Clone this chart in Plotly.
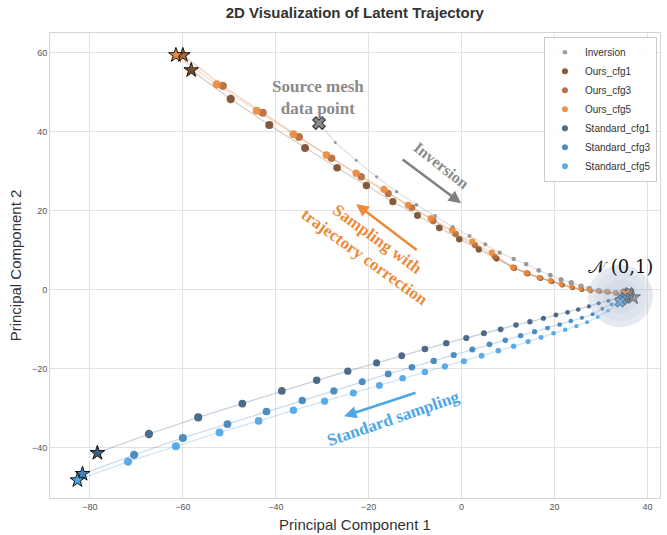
import plotly.graph_objects as go

# ---------------- data ----------------
# Inversion: source data point -> noise
inv_x = [-30.7, -27.2, -22.7, -18.3, -14.0, -9.7, -5.7, -1.9, 1.7, 5.1, 8.2, 11.2, 13.9, 16.6,
         19.1, 21.4, 23.6, 25.7, 27.5, 29.5, 31.3, 33.2, 35.0, 36.9]
inv_y = [42.1, 37.2, 32.7, 28.5, 24.7, 21.4, 18.6, 15.8, 13.5, 11.4, 9.3, 7.7, 6.4, 4.8,
         3.6, 2.5, 1.7, 0.8, 0.2, -0.3, -0.6, -0.9, -1.3, -2.0]

# Sampling trajectories: generated data end -> noise end
ours1_x = [-58.2, -49.7, -41.4, -33.7, -26.8, -20.5, -14.8, -9.5, -4.8, -0.5, 3.7, 7.5, 11.3, 14.2,
           17.0, 19.4, 21.7, 23.9, 25.9, 27.8, 29.8, 31.6, 33.4, 36.0]
ours1_y = [55.5, 48.2, 41.6, 35.8, 30.8, 26.3, 22.2, 18.7, 15.6, 12.7, 10.1, 7.8, 5.4, 4.0,
           2.8, 2.0, 1.1, 0.4, -0.1, -0.4, -0.6, -0.8, -1.0, -0.8]
ours3_x = [-60.0, -51.4, -42.8, -35.0, -28.0, -21.6, -15.8, -10.7, -6.1, -1.3, 2.9, 7.1, 11.2, 14.1,
           16.9, 19.3, 21.6, 23.8, 25.8, 27.7, 29.7, 31.5, 33.3, 35.8]
ours3_y = [59.3, 51.5, 44.7, 38.6, 33.2, 28.5, 24.3, 20.7, 17.4, 14.0, 11.2, 8.3, 5.5, 4.1,
           2.9, 2.1, 1.2, 0.5, 0.0, -0.3, -0.5, -0.7, -0.9, -1.3]
ours5_x = [-61.5, -52.7, -44.1, -36.2, -29.1, -22.7, -16.7, -11.5, -6.6, -2.0, 2.3, 6.5, 11.0, 13.9,
           16.7, 19.1, 21.4, 23.6, 25.6, 27.5, 29.5, 31.3, 33.1, 35.3]
ours5_y = [59.3, 51.9, 45.2, 39.3, 34.0, 29.4, 25.3, 21.3, 18.0, 15.0, 12.1, 9.3, 5.6, 4.2,
           3.0, 2.2, 1.3, 0.6, 0.1, -0.2, -0.4, -0.6, -0.8, -1.1]

std1_x = [-78.4, -67.3, -56.7, -47.2, -38.7, -31.2, -24.5, -18.3, -12.9, -7.9, -3.3, 1.0, 4.8, 8.4,
          11.7, 14.7, 17.6, 20.3, 22.8, 25.1, 27.4, 29.5, 31.6, 33.3, 35.2]
std1_y = [-41.4, -36.6, -32.4, -28.9, -25.7, -23.0, -20.7, -18.6, -16.8, -15.1, -13.6, -12.3, -11.1, -10.1,
          -9.0, -8.2, -7.3, -6.5, -5.8, -5.1, -4.3, -3.5, -2.9, -2.4, -2.1]
std3_x = [-81.6, -70.5, -60.0, -50.4, -42.0, -34.3, -27.5, -21.4, -15.8, -10.7, -6.0, -1.7, 2.3, 6.0,
          9.4, 12.7, 15.7, 18.5, 21.1, 23.5, 25.9, 28.2, 30.3, 32.3, 34.6]
std3_y = [-46.7, -41.9, -37.6, -34.1, -30.9, -28.1, -25.7, -23.4, -21.4, -19.7, -18.1, -16.6, -15.2, -13.9,
          -12.9, -11.7, -10.7, -9.8, -8.9, -8.0, -7.2, -6.3, -4.9, -3.8, -2.6]
std5_x = [-82.7, -71.8, -61.5, -52.1, -43.7, -36.2, -29.5, -23.3, -17.7, -12.7, -7.9, -3.6, 0.5, 4.3,
          7.9, 11.2, 14.3, 17.1, 19.8, 22.3, 24.7, 27.0, 29.3, 31.5, 34.1]
std5_y = [-48.3, -43.6, -39.7, -36.2, -33.3, -30.6, -28.3, -26.2, -24.3, -22.5, -20.9, -19.5, -18.2, -16.8,
          -15.5, -14.4, -13.2, -12.2, -11.1, -10.2, -9.3, -8.3, -7.0, -5.4, -3.2]

series_names = ["Inversion", "Ours_cfg1", "Ours_cfg3", "Ours_cfg5",
                "Standard_cfg1", "Standard_cfg3", "Standard_cfg5"]
series_colors = ["#939393", "#7b4d2b", "#b2693a", "#ea8a3c",
                 "#3d5f80", "#3f84bd", "#4da6e8"]
series_x = [inv_x, ours1_x, ours3_x, ours5_x, std1_x, std3_x, std5_x]
series_y = [inv_y, ours1_y, ours3_y, ours5_y, std1_y, std3_y, std5_y]

noise_center = (34.2, -1.7)
noise_radius = (7.0, 7.85)

# ---------------- figure ----------------
def rgba(hexc, a):
    h = hexc.lstrip("#")
    return "rgba(%d,%d,%d,%.2f)" % (int(h[0:2], 16), int(h[2:4], 16), int(h[4:6], 16), a)

fig = go.Figure()

for name, col, xs, ys in zip(series_names, series_colors, series_x, series_y):
    # connecting line
    fig.add_trace(go.Scatter(x=xs, y=ys, mode="lines", showlegend=False, hoverinfo="skip",
                             line=dict(color=rgba(col, 0.28), width=1.3)))
    inner_x, inner_y = xs[1:-1], ys[1:-1]
    m = len(inner_x)
    if name == "Inversion":
        sizes = [3.0 + 3.2 * i / (m - 1) for i in range(m)]
    else:
        sizes = [8.3 - 4.6 * i / (m - 1) for i in range(m)]
    fig.add_trace(go.Scatter(x=inner_x, y=inner_y, mode="markers", name=name,
                             marker=dict(color=col, size=sizes, opacity=0.92, line=dict(width=0))))
    # end markers
    if name == "Inversion":
        fig.add_trace(go.Scatter(x=[xs[0]], y=[ys[0]], mode="markers", showlegend=False,
                                 marker=dict(symbol="x", size=11, color="#8a8a8a",
                                             line=dict(color="#3a3a3a", width=1.2))))
        fig.add_trace(go.Scatter(x=[xs[-1]], y=[ys[-1]], mode="markers", showlegend=False,
                                 marker=dict(symbol="star", size=11, color="#8a8a8a",
                                             line=dict(color="#3a3a3a", width=1))))
    else:
        fig.add_trace(go.Scatter(x=[xs[0]], y=[ys[0]], mode="markers", showlegend=False,
                                 marker=dict(symbol="star", size=11, color=col,
                                             line=dict(color="#111111", width=1))))
        fig.add_trace(go.Scatter(x=[xs[-1]], y=[ys[-1]], mode="markers", showlegend=False,
                                 marker=dict(symbol="x", size=9, color=col,
                                             line=dict(color="#333333", width=1))))

cx, cy = noise_center
rx, ry = noise_radius
for k, a in [(1.0, 0.28), (0.8, 0.12), (0.55, 0.10)]:
    fig.add_shape(type="circle", xref="x", yref="y",
                  x0=cx - rx * k, x1=cx + rx * k, y0=cy - ry * k, y1=cy + ry * k,
                  fillcolor="rgba(160,180,205,%.2f)" % a, line=dict(width=0), layer="above")

serif = "Liberation Serif"
ann = []
ann.append(dict(x=-30.9, y=48.7, text="<b>Source mesh<br>data point</b>", showarrow=False,
                font=dict(family=serif, size=17, color="#8a8a8a")))
ann.append(dict(x=-4.3, y=31.4, text="<b>Inversion</b>", showarrow=False, textangle=38,
                font=dict(family=serif, size=16, color="#8a8a8a")))
ann.append(dict(x=-19.4, y=10.3, text="<b>Sampling with<br>trajectory correction</b>", showarrow=False,
                textangle=36, font=dict(family=serif, size=17, color="#ec8a3a")))
ann.append(dict(x=-14.7, y=-32.7, text="<b>Standard sampling</b>", showarrow=False, textangle=-19,
                font=dict(family=serif, size=17, color="#4da6e8")))
ann.append(dict(x=34.1, y=5.7, text="𝒩 (0,1)", showarrow=False,
                font=dict(family="DejaVu Serif", size=18, color="#111111")))
# arrows
ann.append(dict(x=-0.1, y=21.8, ax=-60, ay=-45, text="", showarrow=True, arrowhead=2,
                arrowsize=1, arrowwidth=2.5, arrowcolor="#808080"))
ann.append(dict(x=-22.7, y=21.6, ax=62, ay=47, text="", showarrow=True, arrowhead=2,
                arrowsize=1, arrowwidth=2.5, arrowcolor="#ec8a3a"))
ann.append(dict(x=-25.3, y=-32.1, ax=73, ay=-24, text="", showarrow=True, arrowhead=2,
                arrowsize=1, arrowwidth=2.5, arrowcolor="#4da6e8"))

fig.update_layout(
    width=667, height=535,
    margin=dict(l=50, r=7, t=33, b=37, autoexpand=False),
    paper_bgcolor="white", plot_bgcolor="white",
    font=dict(family="Liberation Sans, Arial, sans-serif", color="#333333"),
    title=dict(text="<b>2D Visualization of Latent Trajectory</b>", x=0.532, xanchor="center",
               y=1 - 13 / 535, yref="container", yanchor="middle",
               font=dict(size=15, color="#333333")),
    annotations=ann,
    legend=dict(x=0.995, y=0.992, xanchor="right", yanchor="top", bgcolor="rgba(255,255,255,0.9)",
                bordercolor="#cccccc", borderwidth=1, font=dict(size=10, color="#333333"),
                itemsizing="trace", tracegroupgap=0),
)
fig.update_xaxes(range=[-88.6, 42.7], tickvals=[-80, -60, -40, -20, 0, 20, 40], automargin=False,
                 showgrid=True, gridcolor="#e2e2e2", gridwidth=1, zeroline=False,
                 showline=True, mirror=True, linecolor="#d5d5d5", linewidth=1,
                 ticks="", tickfont=dict(size=9, color="#555555"),
                 title=dict(text="Principal Component 1", font=dict(size=15, color="#333333"), standoff=8))
fig.update_yaxes(range=[-52.8, 64.9], tickvals=[-40, -20, 0, 20, 40, 60], automargin=False,
                 showgrid=True, gridcolor="#e2e2e2", gridwidth=1, zeroline=False,
                 showline=True, mirror=True, linecolor="#d5d5d5", linewidth=1,
                 ticks="", tickfont=dict(size=9, color="#555555"),
                 title=dict(text="Principal Component 2", font=dict(size=15, color="#333333"), standoff=6))

fig.write_html("out.html", config={"displayModeBar": False},
               post_script="document.body.style.margin='0';")
